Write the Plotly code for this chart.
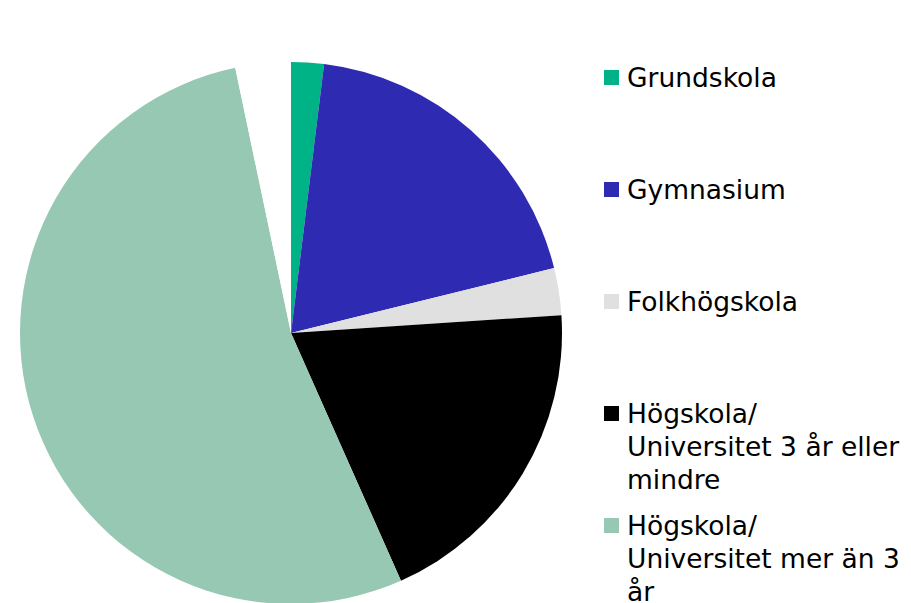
import plotly.graph_objects as go

W, H = 911, 603
OFF = 8  # page body margin in the rendered html

labels = ["Grundskola", "Gymnasium", "Folkhögskola",
          "Högskola/<br>Universitet 3 år eller<br>mindre",
          "Högskola/<br>Universitet mer än 3<br>år",
          "Övrigt"]
values = [1.95, 19.2, 2.8, 19.4, 53.35, 3.3]
colors = ["#00B386", "#2E2BB2", "#E0E0E0", "#000000", "#96C8B3", "#FFFFFF"]
legend_show = [True, True, True, True, True, False]

# legend row centers (px from top of screenshot) for first line of each entry
legend_rows = [77.5, 189.5, 301.5, 413.5, 525.5]
LINE = 33

cx, cy, r = 291 - OFF, 333 - OFF, 271
fig = go.Figure(go.Pie(
    labels=labels, values=values, sort=False, direction="clockwise", rotation=0,
    marker=dict(colors=colors, line=dict(width=0)),
    textinfo="none", showlegend=False,
    domain=dict(x=[(cx - r) / W, (cx + r) / W], y=[(H - cy - r) / H, (H - cy + r) / H]),
))

font = dict(family="DejaVu Sans, Verdana, sans-serif", size=26.5, color="#000000")
shapes, annotations = [], []
i = 0
for lab, col, show in zip(labels, colors, legend_show):
    if not show:
        continue
    yc = legend_rows[i] - OFF
    i += 1
    shapes.append(dict(type="rect", xref="paper", yref="paper",
                       x0=(604 - OFF) / W, x1=(619 - OFF) / W,
                       y0=1 - (yc + 7.5) / H, y1=1 - (yc - 7.5) / H,
                       fillcolor=col, line=dict(width=0)))
    for k, line in enumerate(lab.split("<br>")):
        annotations.append(dict(text=line, xref="paper", yref="paper",
                                x=(625 - OFF) / W, y=1 - (yc + k * LINE) / H,
                                xanchor="left", yanchor="middle",
                                align="left", showarrow=False, font=font))

fig.update_layout(width=W, height=H, margin=dict(l=0, r=0, t=0, b=0),
                  paper_bgcolor="white", plot_bgcolor="white",
                  shapes=shapes, annotations=annotations)
fig.write_html("out.html")
